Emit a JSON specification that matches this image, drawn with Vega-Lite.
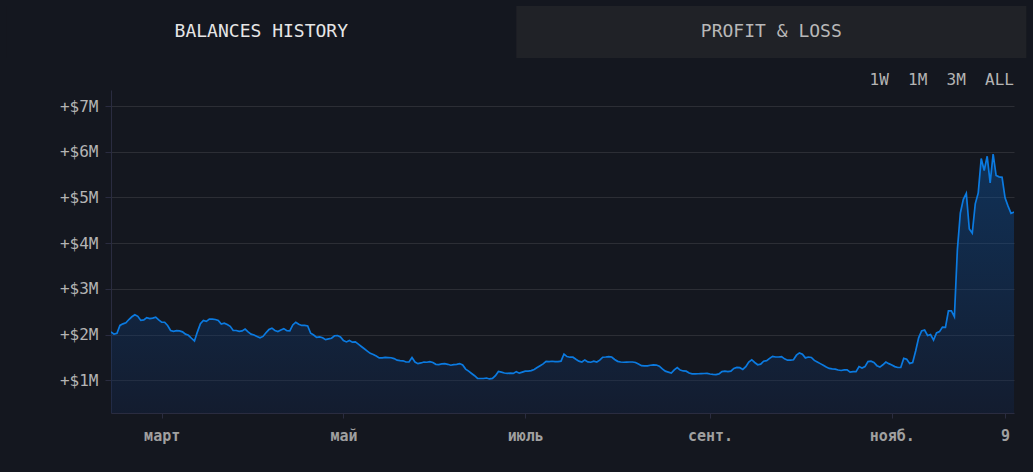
{
  "$schema": "https://vega.github.io/schema/vega-lite/v6.json",
  "background": "#14171f",
  "padding": {"left": 6, "top": 6, "right": 7, "bottom": 29},
  "spacing": 14,
  "config": {"view": {"stroke": null}, "font": "DejaVu Sans Mono"},
  "vconcat": [
    {
      "width": 915,
      "height": 52,
      "data": {"values": [
        {"tab": "BALANCES HISTORY", "state": "active"},
        {"tab": "PROFIT & LOSS", "state": "inactive"}
      ]},
      "encoding": {
        "x": {"field": "tab", "type": "nominal", "sort": null, "axis": null, "scale": {"paddingInner": 0, "paddingOuter": 0, "range": [-104.7, 915.3]}}
      },
      "layer": [
        {
          "mark": {"type": "rect"},
          "encoding": {
            "fill": {"field": "state", "type": "nominal", "scale": {"domain": ["active", "inactive"], "range": ["#14171f", "#202227"]}, "legend": null}
          }
        },
        {
          "mark": {"type": "text", "fontSize": 18, "font": "DejaVu Sans Mono", "baseline": "middle", "align": "center"},
          "encoding": {
            "text": {"field": "tab"},
            "color": {"field": "state", "type": "nominal", "scale": {"domain": ["active", "inactive"], "range": ["#e6e6e6", "#b8b8b8"]}, "legend": null}
          }
        }
      ],
      "resolve": {"scale": {"color": "independent", "fill": "independent"}}
    },
    {
      "width": 903,
      "height": 323,
      "title": {"text": "1W\u00a0\u00a01M\u00a0\u00a03M\u00a0\u00a0ALL", "anchor": "end", "fontSize": 16, "fontWeight": "normal", "color": "#b4b4b4", "font": "DejaVu Sans Mono", "offset": 2},
      "data": {"values": [
        {"date":"2024-02-13","balance":2.06},{"date":"2024-02-14","balance":2.01},{"date":"2024-02-15","balance":2.03},{"date":"2024-02-16","balance":2.20},{"date":"2024-02-17","balance":2.235},{"date":"2024-02-18","balance":2.26},{"date":"2024-02-19","balance":2.33},{"date":"2024-02-20","balance":2.39},{"date":"2024-02-21","balance":2.435},{"date":"2024-02-22","balance":2.40},{"date":"2024-02-23","balance":2.31},{"date":"2024-02-24","balance":2.32},{"date":"2024-02-25","balance":2.37},{"date":"2024-02-26","balance":2.35},{"date":"2024-02-27","balance":2.36},{"date":"2024-02-28","balance":2.38},{"date":"2024-02-29","balance":2.32},
        {"date":"2024-03-01","balance":2.27},{"date":"2024-03-02","balance":2.27},{"date":"2024-03-03","balance":2.20},{"date":"2024-03-04","balance":2.09},{"date":"2024-03-05","balance":2.07},{"date":"2024-03-06","balance":2.085},{"date":"2024-03-07","balance":2.08},{"date":"2024-03-08","balance":2.06},{"date":"2024-03-09","balance":2.01},{"date":"2024-03-10","balance":1.985},{"date":"2024-03-11","balance":1.92},{"date":"2024-03-12","balance":1.86},{"date":"2024-03-13","balance":2.06},{"date":"2024-03-14","balance":2.24},{"date":"2024-03-15","balance":2.31},{"date":"2024-03-16","balance":2.29},{"date":"2024-03-17","balance":2.34},{"date":"2024-03-18","balance":2.34},{"date":"2024-03-19","balance":2.33},{"date":"2024-03-20","balance":2.31},{"date":"2024-03-21","balance":2.23},{"date":"2024-03-22","balance":2.25},{"date":"2024-03-23","balance":2.22},{"date":"2024-03-24","balance":2.18},{"date":"2024-03-25","balance":2.09},{"date":"2024-03-26","balance":2.09},{"date":"2024-03-27","balance":2.07},{"date":"2024-03-28","balance":2.08},{"date":"2024-03-29","balance":2.12},{"date":"2024-03-30","balance":2.06},{"date":"2024-03-31","balance":2.01},
        {"date":"2024-04-01","balance":1.99},{"date":"2024-04-02","balance":1.96},{"date":"2024-04-03","balance":1.93},{"date":"2024-04-04","balance":1.96},{"date":"2024-04-05","balance":2.04},{"date":"2024-04-06","balance":2.11},{"date":"2024-04-07","balance":2.14},{"date":"2024-04-08","balance":2.09},{"date":"2024-04-09","balance":2.066},{"date":"2024-04-10","balance":2.10},{"date":"2024-04-11","balance":2.13},{"date":"2024-04-12","balance":2.085},{"date":"2024-04-13","balance":2.08},{"date":"2024-04-14","balance":2.21},{"date":"2024-04-15","balance":2.27},{"date":"2024-04-16","balance":2.225},{"date":"2024-04-17","balance":2.20},{"date":"2024-04-18","balance":2.20},{"date":"2024-04-19","balance":2.19},{"date":"2024-04-20","balance":2.03},{"date":"2024-04-21","balance":1.99},{"date":"2024-04-22","balance":1.94},{"date":"2024-04-23","balance":1.95},{"date":"2024-04-24","balance":1.93},{"date":"2024-04-25","balance":1.89},{"date":"2024-04-26","balance":1.905},{"date":"2024-04-27","balance":1.92},{"date":"2024-04-28","balance":1.975},{"date":"2024-04-29","balance":1.98},{"date":"2024-04-30","balance":1.95},
        {"date":"2024-05-01","balance":1.87},{"date":"2024-05-02","balance":1.84},{"date":"2024-05-03","balance":1.87},{"date":"2024-05-04","balance":1.835},{"date":"2024-05-05","balance":1.84},{"date":"2024-05-06","balance":1.79},{"date":"2024-05-07","balance":1.74},{"date":"2024-05-08","balance":1.69},{"date":"2024-05-09","balance":1.64},{"date":"2024-05-10","balance":1.59},{"date":"2024-05-11","balance":1.565},{"date":"2024-05-12","balance":1.53},{"date":"2024-05-13","balance":1.49},{"date":"2024-05-14","balance":1.49},{"date":"2024-05-15","balance":1.50},{"date":"2024-05-16","balance":1.496},{"date":"2024-05-17","balance":1.493},{"date":"2024-05-18","balance":1.475},{"date":"2024-05-19","balance":1.44},{"date":"2024-05-20","balance":1.43},{"date":"2024-05-21","balance":1.427},{"date":"2024-05-22","balance":1.40},{"date":"2024-05-23","balance":1.40},{"date":"2024-05-24","balance":1.50},{"date":"2024-05-25","balance":1.40},{"date":"2024-05-26","balance":1.365},{"date":"2024-05-27","balance":1.38},{"date":"2024-05-28","balance":1.40},{"date":"2024-05-29","balance":1.395},{"date":"2024-05-30","balance":1.41},{"date":"2024-05-31","balance":1.39},
        {"date":"2024-06-01","balance":1.35},{"date":"2024-06-02","balance":1.345},{"date":"2024-06-03","balance":1.36},{"date":"2024-06-04","balance":1.364},{"date":"2024-06-05","balance":1.35},{"date":"2024-06-06","balance":1.33},{"date":"2024-06-07","balance":1.342},{"date":"2024-06-08","balance":1.35},{"date":"2024-06-09","balance":1.366},{"date":"2024-06-10","balance":1.335},{"date":"2024-06-11","balance":1.245},{"date":"2024-06-12","balance":1.20},{"date":"2024-06-13","balance":1.15},{"date":"2024-06-14","balance":1.10},{"date":"2024-06-15","balance":1.04},{"date":"2024-06-16","balance":1.04},{"date":"2024-06-17","balance":1.04},{"date":"2024-06-18","balance":1.05},{"date":"2024-06-19","balance":1.03},{"date":"2024-06-20","balance":1.043},{"date":"2024-06-21","balance":1.10},{"date":"2024-06-22","balance":1.195},{"date":"2024-06-23","balance":1.18},{"date":"2024-06-24","balance":1.16},{"date":"2024-06-25","balance":1.15},{"date":"2024-06-26","balance":1.157},{"date":"2024-06-27","balance":1.15},{"date":"2024-06-28","balance":1.19},{"date":"2024-06-29","balance":1.157},{"date":"2024-06-30","balance":1.18},
        {"date":"2024-07-01","balance":1.20},{"date":"2024-07-02","balance":1.20},{"date":"2024-07-03","balance":1.213},{"date":"2024-07-04","balance":1.237},{"date":"2024-07-05","balance":1.28},{"date":"2024-07-06","balance":1.32},{"date":"2024-07-07","balance":1.36},{"date":"2024-07-08","balance":1.416},{"date":"2024-07-09","balance":1.41},{"date":"2024-07-10","balance":1.417},{"date":"2024-07-11","balance":1.41},{"date":"2024-07-12","balance":1.41},{"date":"2024-07-13","balance":1.42},{"date":"2024-07-14","balance":1.575},{"date":"2024-07-15","balance":1.52},{"date":"2024-07-16","balance":1.505},{"date":"2024-07-17","balance":1.505},{"date":"2024-07-18","balance":1.46},{"date":"2024-07-19","balance":1.42},{"date":"2024-07-20","balance":1.40},{"date":"2024-07-21","balance":1.446},{"date":"2024-07-22","balance":1.404},{"date":"2024-07-23","balance":1.395},{"date":"2024-07-24","balance":1.417},{"date":"2024-07-25","balance":1.40},{"date":"2024-07-26","balance":1.44},{"date":"2024-07-27","balance":1.505},{"date":"2024-07-28","balance":1.51},{"date":"2024-07-29","balance":1.52},{"date":"2024-07-30","balance":1.51},{"date":"2024-07-31","balance":1.455},
        {"date":"2024-08-01","balance":1.415},{"date":"2024-08-02","balance":1.40},{"date":"2024-08-03","balance":1.395},{"date":"2024-08-04","balance":1.398},{"date":"2024-08-05","balance":1.40},{"date":"2024-08-06","balance":1.40},{"date":"2024-08-07","balance":1.39},{"date":"2024-08-08","balance":1.356},{"date":"2024-08-09","balance":1.32},{"date":"2024-08-10","balance":1.316},{"date":"2024-08-11","balance":1.315},{"date":"2024-08-12","balance":1.33},{"date":"2024-08-13","balance":1.337},{"date":"2024-08-14","balance":1.334},{"date":"2024-08-15","balance":1.31},{"date":"2024-08-16","balance":1.25},{"date":"2024-08-17","balance":1.20},{"date":"2024-08-18","balance":1.18},{"date":"2024-08-19","balance":1.16},{"date":"2024-08-20","balance":1.23},{"date":"2024-08-21","balance":1.28},{"date":"2024-08-22","balance":1.225},{"date":"2024-08-23","balance":1.205},{"date":"2024-08-24","balance":1.20},{"date":"2024-08-25","balance":1.16},{"date":"2024-08-26","balance":1.142},{"date":"2024-08-27","balance":1.14},{"date":"2024-08-28","balance":1.143},{"date":"2024-08-29","balance":1.147},{"date":"2024-08-30","balance":1.149},{"date":"2024-08-31","balance":1.15},
        {"date":"2024-09-01","balance":1.138},{"date":"2024-09-02","balance":1.128},{"date":"2024-09-03","balance":1.126},{"date":"2024-09-04","balance":1.14},{"date":"2024-09-05","balance":1.19},{"date":"2024-09-06","balance":1.20},{"date":"2024-09-07","balance":1.19},{"date":"2024-09-08","balance":1.20},{"date":"2024-09-09","balance":1.26},{"date":"2024-09-10","balance":1.282},{"date":"2024-09-11","balance":1.276},{"date":"2024-09-12","balance":1.237},{"date":"2024-09-13","balance":1.30},{"date":"2024-09-14","balance":1.40},{"date":"2024-09-15","balance":1.45},{"date":"2024-09-16","balance":1.39},{"date":"2024-09-17","balance":1.34},{"date":"2024-09-18","balance":1.353},{"date":"2024-09-19","balance":1.418},{"date":"2024-09-20","balance":1.43},{"date":"2024-09-21","balance":1.48},{"date":"2024-09-22","balance":1.525},{"date":"2024-09-23","balance":1.51},{"date":"2024-09-24","balance":1.51},{"date":"2024-09-25","balance":1.52},{"date":"2024-09-26","balance":1.47},{"date":"2024-09-27","balance":1.44},{"date":"2024-09-28","balance":1.44},{"date":"2024-09-29","balance":1.45},{"date":"2024-09-30","balance":1.55},
        {"date":"2024-10-01","balance":1.60},{"date":"2024-10-02","balance":1.57},{"date":"2024-10-03","balance":1.49},{"date":"2024-10-04","balance":1.51},{"date":"2024-10-05","balance":1.50},{"date":"2024-10-06","balance":1.435},{"date":"2024-10-07","balance":1.40},{"date":"2024-10-08","balance":1.365},{"date":"2024-10-09","balance":1.33},{"date":"2024-10-10","balance":1.29},{"date":"2024-10-11","balance":1.26},{"date":"2024-10-12","balance":1.25},{"date":"2024-10-13","balance":1.243},{"date":"2024-10-14","balance":1.225},{"date":"2024-10-15","balance":1.215},{"date":"2024-10-16","balance":1.228},{"date":"2024-10-17","balance":1.23},{"date":"2024-10-18","balance":1.178},{"date":"2024-10-19","balance":1.19},{"date":"2024-10-20","balance":1.19},{"date":"2024-10-21","balance":1.30},{"date":"2024-10-22","balance":1.27},{"date":"2024-10-23","balance":1.30},{"date":"2024-10-24","balance":1.41},{"date":"2024-10-25","balance":1.42},{"date":"2024-10-26","balance":1.39},{"date":"2024-10-27","balance":1.32},{"date":"2024-10-28","balance":1.29},{"date":"2024-10-29","balance":1.34},{"date":"2024-10-30","balance":1.40},{"date":"2024-10-31","balance":1.365},
        {"date":"2024-11-01","balance":1.337},{"date":"2024-11-02","balance":1.30},{"date":"2024-11-03","balance":1.28},{"date":"2024-11-04","balance":1.28},{"date":"2024-11-05","balance":1.48},{"date":"2024-11-06","balance":1.46},{"date":"2024-11-07","balance":1.37},{"date":"2024-11-08","balance":1.39},{"date":"2024-11-09","balance":1.64},{"date":"2024-11-10","balance":1.93},{"date":"2024-11-11","balance":2.08},{"date":"2024-11-12","balance":2.10},{"date":"2024-11-13","balance":1.98},{"date":"2024-11-14","balance":2.00},{"date":"2024-11-15","balance":1.88},{"date":"2024-11-16","balance":2.035},{"date":"2024-11-17","balance":2.065},{"date":"2024-11-18","balance":2.165},{"date":"2024-11-19","balance":2.16},{"date":"2024-11-20","balance":2.52},{"date":"2024-11-21","balance":2.52},{"date":"2024-11-22","balance":2.39},{"date":"2024-11-23","balance":3.86},{"date":"2024-11-24","balance":4.66},{"date":"2024-11-25","balance":4.96},{"date":"2024-11-26","balance":5.09},{"date":"2024-11-27","balance":4.31},{"date":"2024-11-28","balance":4.22},{"date":"2024-11-29","balance":4.86},{"date":"2024-11-30","balance":5.10},
        {"date":"2024-12-01","balance":5.85},{"date":"2024-12-02","balance":5.59},{"date":"2024-12-03","balance":5.90},{"date":"2024-12-04","balance":5.32},{"date":"2024-12-05","balance":5.95},{"date":"2024-12-06","balance":5.48},{"date":"2024-12-07","balance":5.45},{"date":"2024-12-08","balance":5.44},{"date":"2024-12-09","balance":4.99},{"date":"2024-12-10","balance":4.81},{"date":"2024-12-11","balance":4.65},{"date":"2024-12-12","balance":4.68}
      ]},
      "mark": {
        "type": "area",
        "clip": true,
        "line": {"color": "#0b7ae0", "strokeWidth": 1.7},
        "color": {
          "gradient": "linear", "x1": 0, "y1": 0, "x2": 0, "y2": 1,
          "stops": [
            {"offset": 0, "color": "rgba(10,99,193,0.5)"},
            {"offset": 1, "color": "rgba(18,35,71,0.5)"}
          ]
        }
      },
      "encoding": {
        "x": {
          "field": "date", "type": "temporal",
          "scale": {"type": "utc"},
          "axis": {
            "values": [
              {"year": 2024, "month": 3, "date": 1, "utc": true},
              {"year": 2024, "month": 5, "date": 1, "utc": true},
              {"year": 2024, "month": 7, "date": 1, "utc": true},
              {"year": 2024, "month": 9, "date": 1, "utc": true},
              {"year": 2024, "month": 11, "date": 1, "utc": true},
              {"year": 2024, "month": 12, "date": 9, "utc": true}
            ],
            "labelExpr": "utcdate(datum.value) != 1 ? '' + utcdate(datum.value) : ['янв.','февр.','март','апр.','май','июнь','июль','авг.','сент.','окт.','нояб.','дек.'][utcmonth(datum.value)]",
            "title": null, "grid": false,
            "domainColor": "#2a2c40", "tickColor": "#2a2c40", "tickSize": 5,
            "labelColor": "#a0a0a0", "labelFontSize": 15, "labelFontWeight": "bold", "labelFont": "DejaVu Sans Mono",
            "labelPadding": 10, "labelFlush": false, "labelOverlap": false
          }
        },
        "y": {
          "field": "balance", "type": "quantitative",
          "scale": {"domain": [0.285, 7.35], "zero": false, "nice": false},
          "axis": {
            "values": [1, 2, 3, 4, 5, 6, 7],
            "labelExpr": "'+$' + datum.value + 'M'",
            "title": null, "grid": true, "gridColor": "#2c2e35",
            "domainColor": "#2a2c40", "tickColor": "#2a2c40", "tickSize": 6,
            "labelColor": "#b4b4b4", "labelFontSize": 16, "labelFont": "DejaVu Sans Mono",
            "labelPadding": 7, "minExtent": 105
          }
        }
      }
    }
  ]
}
